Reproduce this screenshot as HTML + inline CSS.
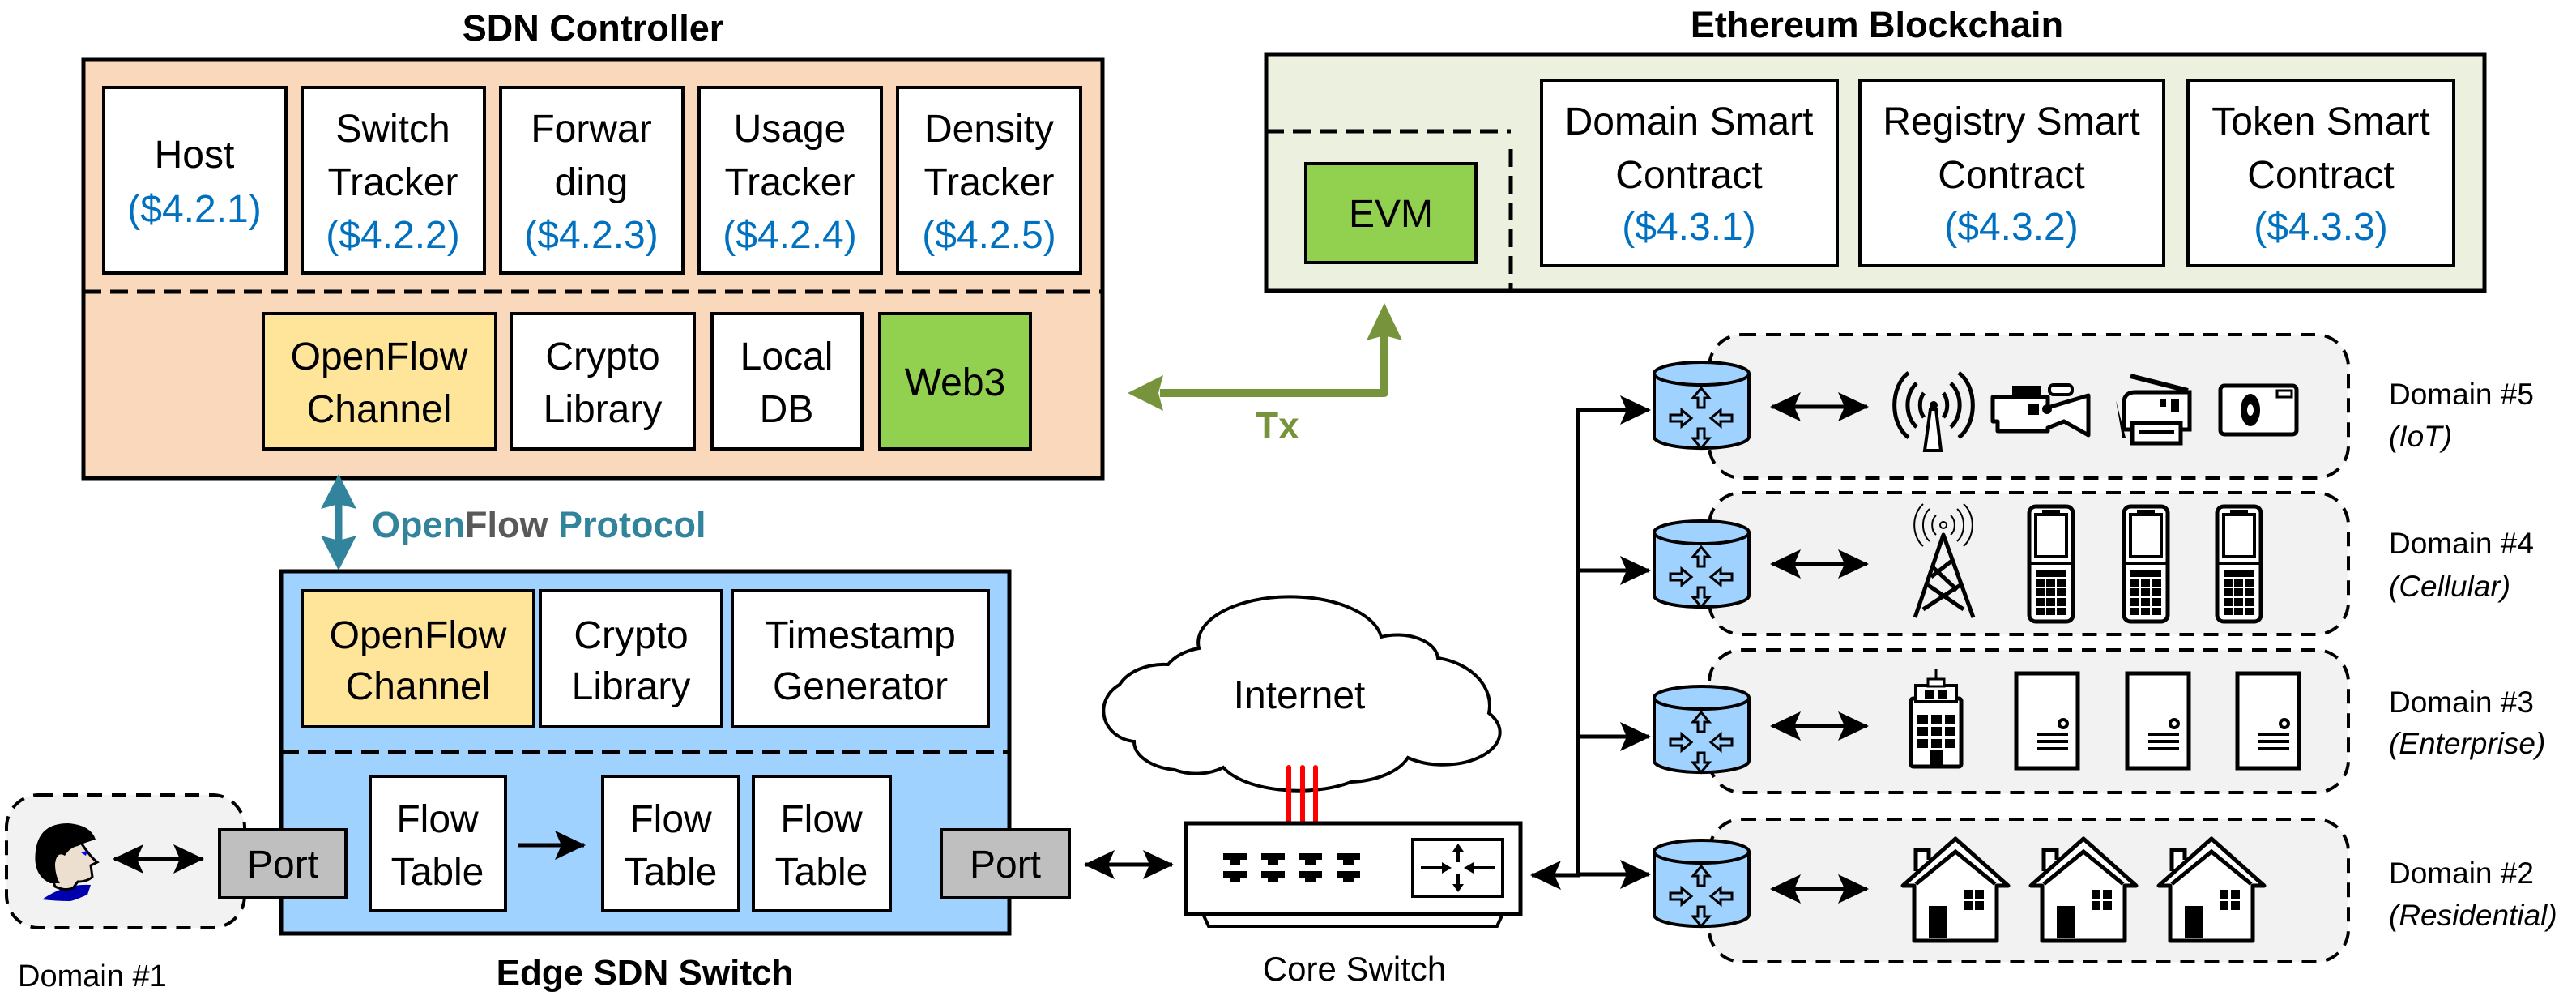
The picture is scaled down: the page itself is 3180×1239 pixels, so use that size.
<!DOCTYPE html>
<html><head><meta charset="utf-8"><style>
html,body{margin:0;padding:0;background:#fff;}
svg{display:block;}
text{font-family:"Liberation Sans",sans-serif;}
</style></head><body>
<svg width="3180" height="1239" viewBox="0 0 3180 1239" xmlns="http://www.w3.org/2000/svg">
<defs>
<marker id="ah" markerUnits="userSpaceOnUse" markerWidth="40" markerHeight="40" refX="36" refY="18" orient="auto-start-reverse"><path d="M0,0 L38,18 L0,36 L8,18 Z" fill="#000"/></marker>
<g id="router">
<path d="M0,14 L0,92 A58,14 0 0 0 117,92 L117,14" fill="#9fd2ff" stroke="#000" stroke-width="4"/>
<ellipse cx="58.5" cy="14" rx="58.5" ry="14" fill="#9fd2ff" stroke="#000" stroke-width="4"/>
<g fill="#9fd2ff" stroke="#000" stroke-width="3">
<path d="M58,32 L48,44 L54,44 L54,56 L62,56 L62,44 L68,44 Z"/>
<path d="M58,106 L48,94 L54,94 L54,82 L62,82 L62,94 L68,94 Z"/>
<path d="M46,69 L34,59 L34,65 L20,65 L20,73 L34,73 L34,79 Z"/>
<path d="M70,69 L82,59 L82,65 L96,65 L96,73 L82,73 L82,79 Z"/>
</g>
</g>
<g id="phone">
<rect x="0" y="0" width="54" height="142" rx="8" fill="#fff" stroke="#000" stroke-width="5"/>
<rect x="8" y="10" width="38" height="52" fill="#fff" stroke="#000" stroke-width="4"/>
<rect x="16" y="4" width="22" height="5" fill="#000"/>
<line x1="2" y1="70" x2="52" y2="70" stroke="#000" stroke-width="4"/>
<rect x="8" y="78" width="38" height="56" fill="#000"/>
<g stroke="#fff" stroke-width="2"><line x1="20" y1="88" x2="20" y2="134"/><line x1="33" y1="88" x2="33" y2="134"/><line x1="8" y1="88" x2="46" y2="88"/><line x1="8" y1="100" x2="46" y2="100"/><line x1="8" y1="112" x2="46" y2="112"/><line x1="8" y1="124" x2="46" y2="124"/></g>
</g>
<g id="server">
<rect x="2" y="2" width="76" height="117" fill="#fff" stroke="#000" stroke-width="5"/>
<circle cx="60" cy="64" r="5" fill="#fff" stroke="#000" stroke-width="4"/>
<rect x="28" y="75" width="38" height="4" fill="#000"/><rect x="28" y="84" width="38" height="4" fill="#000"/><rect x="28" y="93" width="38" height="4" fill="#000"/>
</g>
<g id="house">
<path d="M2,58 L67,0 L132,58 L118,58 L118,126 L16,126 L16,58 Z" fill="#fff" stroke="#000" stroke-width="5" stroke-linejoin="round"/>
<path d="M18,56 L67,16 L116,56" fill="none" stroke="#000" stroke-width="5"/>
<path d="M18,40 L18,14 L34,14 L34,26" fill="#fff" stroke="#000" stroke-width="5"/>
<rect x="34" y="83" width="22" height="40" fill="#000"/>
<rect x="77" y="63" width="11" height="11" fill="#000"/><rect x="91" y="63" width="11" height="11" fill="#000"/>
<rect x="77" y="77" width="11" height="11" fill="#000"/><rect x="91" y="77" width="11" height="11" fill="#000"/>
</g>
</defs>

<!-- SDN Controller -->
<text x="732" y="50" font-size="45" font-weight="bold" text-anchor="middle">SDN Controller</text>
<rect x="103" y="73" width="1258" height="517" fill="#fad8bb" stroke="#000" stroke-width="5"/>
<line x1="103" y1="360" x2="1361" y2="360" stroke="#000" stroke-width="5" stroke-dasharray="22,11"/>
<g fill="#fff" stroke="#000" stroke-width="4">
<rect x="128" y="108" width="225" height="229"/>
<rect x="373" y="108" width="225" height="229"/>
<rect x="618" y="108" width="225" height="229"/>
<rect x="863" y="108" width="225" height="229"/>
<rect x="1108" y="108" width="226" height="229"/>
<rect x="325" y="387" width="287" height="167" fill="#fee599"/>
<rect x="631" y="387" width="226" height="167"/>
<rect x="879" y="387" width="185" height="167"/>
<rect x="1086" y="387" width="186" height="167" fill="#92d050"/>
</g>
<g font-size="48" text-anchor="middle">
<text x="240" y="207">Host</text><text x="240" y="274" fill="#0070c0">($4.2.1)</text>
<text x="485" y="175">Switch</text><text x="485" y="241">Tracker</text><text x="485" y="306" fill="#0070c0">($4.2.2)</text>
<text x="730" y="175">Forwar</text><text x="730" y="241">ding</text><text x="730" y="306" fill="#0070c0">($4.2.3)</text>
<text x="975" y="175">Usage</text><text x="975" y="241">Tracker</text><text x="975" y="306" fill="#0070c0">($4.2.4)</text>
<text x="1221" y="175">Density</text><text x="1221" y="241">Tracker</text><text x="1221" y="306" fill="#0070c0">($4.2.5)</text>
<text x="468" y="456">OpenFlow</text><text x="468" y="521">Channel</text>
<text x="744" y="456">Crypto</text><text x="744" y="521">Library</text>
<text x="971" y="456">Local</text><text x="971" y="521">DB</text>
<text x="1179" y="488">Web3</text>
</g>

<!-- OpenFlow protocol arrow -->
<line x1="418" y1="620" x2="418" y2="670" stroke="#31849b" stroke-width="9"/>
<path d="M418,585 L440,628 L418,622 L396,628 Z" fill="#31849b"/>
<path d="M418,704 L440,661 L418,667 L396,661 Z" fill="#31849b"/>
<text x="459" y="663" font-size="45" font-weight="bold" fill="#31849b">Open<tspan fill="#595959">Flow</tspan> Protocol</text>

<!-- Edge SDN switch -->
<rect x="347" y="705" width="899" height="447" fill="#9fd2ff" stroke="#000" stroke-width="5"/>
<line x1="347" y1="928" x2="1246" y2="928" stroke="#000" stroke-width="5" stroke-dasharray="22,11"/>
<g fill="#fff" stroke="#000" stroke-width="4">
<rect x="373" y="729" width="286" height="168" fill="#fee599"/>
<rect x="667" y="729" width="224" height="168"/>
<rect x="904" y="729" width="316" height="168"/>
<rect x="457" y="958" width="167" height="166"/>
<rect x="744" y="958" width="168" height="166"/>
<rect x="930" y="958" width="169" height="166"/>
<rect x="271" y="1024" width="156" height="84" fill="#bfbfbf"/>
<rect x="1162" y="1024" width="158" height="84" fill="#bfbfbf"/>
</g>
<g font-size="48" text-anchor="middle">
<text x="516" y="800">OpenFlow</text><text x="516" y="863">Channel</text>
<text x="779" y="800">Crypto</text><text x="779" y="863">Library</text>
<text x="1062" y="800">Timestamp</text><text x="1062" y="863">Generator</text>
<text x="540" y="1027">Flow</text><text x="540" y="1092">Table</text>
<text x="828" y="1027">Flow</text><text x="828" y="1092">Table</text>
<text x="1014" y="1027">Flow</text><text x="1014" y="1092">Table</text>
<text x="349" y="1083">Port</text><text x="1241" y="1083">Port</text>
</g>
<line x1="639" y1="1043" x2="721" y2="1043" stroke="#000" stroke-width="5" marker-end="url(#ah)"/>
<text x="796" y="1215" font-size="44" font-weight="bold" text-anchor="middle">Edge SDN Switch</text>

<!-- Domain 1 -->
<rect x="8" y="981" width="294" height="164" rx="40" fill="#f2f2f2" stroke="#000" stroke-width="4" stroke-dasharray="18,12"/>
<rect x="271" y="1024" width="156" height="84" fill="#bfbfbf" stroke="#000" stroke-width="4"/>
<text x="349" y="1083" font-size="48" text-anchor="middle">Port</text>
<path d="M52,1110 Q80,1090 112,1092 L108,1104 Q90,1112 86,1112 Q70,1112 52,1110 Z" fill="#0000b0"/>
<path d="M64,1050 Q66,1030 90,1032 L100,1040 Q112,1058 120,1064 L112,1068 L114,1082 Q108,1088 96,1088 L90,1096 Q80,1100 68,1094 Q60,1074 64,1050 Z" fill="#ecdfd0" stroke="#000" stroke-width="3"/>
<path d="M62,1090 Q40,1080 44,1050 Q48,1016 84,1016 Q112,1018 118,1036 Q104,1040 96,1044 Q86,1046 80,1056 Q70,1050 68,1066 Q68,1080 74,1090 Z" fill="#000"/>
<path d="M100,1052 L108,1050 L106,1056 Z" fill="#0000ff"/>
<line x1="141" y1="1060" x2="250" y2="1060" stroke="#000" stroke-width="5" marker-start="url(#ah)" marker-end="url(#ah)"/>
<text x="22" y="1217" font-size="38">Domain #1</text>

<!-- Port to core switch -->
<line x1="1340" y1="1067" x2="1447" y2="1067" stroke="#000" stroke-width="5" marker-start="url(#ah)" marker-end="url(#ah)"/>

<!-- Ethereum -->
<text x="2317" y="46" font-size="45" font-weight="bold" text-anchor="middle">Ethereum Blockchain</text>
<rect x="1563" y="67" width="1504" height="292" fill="#ebf1de" stroke="#000" stroke-width="5"/>
<line x1="1563" y1="162" x2="1865" y2="162" stroke="#000" stroke-width="5" stroke-dasharray="22,11"/>
<line x1="1865" y1="184" x2="1865" y2="359" stroke="#000" stroke-width="5" stroke-dasharray="22,11"/>
<g fill="#fff" stroke="#000" stroke-width="4">
<rect x="1612" y="202" width="210" height="122" fill="#92d050"/>
<rect x="1903" y="99" width="365" height="229"/>
<rect x="2296" y="99" width="375" height="229"/>
<rect x="2701" y="99" width="328" height="229"/>
</g>
<g font-size="48" text-anchor="middle">
<text x="1717" y="280">EVM</text>
<text x="2085" y="166">Domain Smart</text><text x="2085" y="232">Contract</text><text x="2085" y="296" fill="#0070c0">($4.3.1)</text>
<text x="2483" y="166">Registry Smart</text><text x="2483" y="232">Contract</text><text x="2483" y="296" fill="#0070c0">($4.3.2)</text>
<text x="2865" y="166">Token Smart</text><text x="2865" y="232">Contract</text><text x="2865" y="296" fill="#0070c0">($4.3.3)</text>
</g>

<!-- Tx arrow -->
<path d="M1432,485 L1709,485 L1709,410" fill="none" stroke="#77933c" stroke-width="10" stroke-linejoin="round"/>
<path d="M1709,374 L1731,420 L1709,414 L1687,420 Z" fill="#77933c"/>
<path d="M1392,485 L1436,463 L1430,485 L1436,507 Z" fill="#77933c"/>
<text x="1550" y="541" font-size="46" font-weight="bold" fill="#77933c">Tx</text>

<!-- Cloud -->
<path d="M1400,915 A42,38 0 0 1 1382,845 A60,42 0 0 1 1442,820 A60,40 0 0 1 1480,800 A110,55 0 0 1 1705,786 A50,30 0 0 1 1775,812 A80,60 0 0 1 1838,880 A70,40 0 0 1 1738,935 A80,45 0 0 1 1668,965 A100,45 0 0 1 1510,947 A50,30 0 0 1 1450,950 A60,35 0 0 1 1400,915 Z" fill="#fff" stroke="#000" stroke-width="4"/>
<text x="1604" y="874" font-size="48" text-anchor="middle">Internet</text>
<g stroke="#ff0000" stroke-width="6" stroke-linecap="round"><line x1="1591" y1="947" x2="1591" y2="1020"/><line x1="1608" y1="947" x2="1608" y2="1020"/><line x1="1624" y1="947" x2="1624" y2="1020"/></g>

<!-- Core switch -->
<path d="M1485,1128 L1492,1143 L1848,1143 L1855,1128" fill="#fff" stroke="#000" stroke-width="4"/>
<rect x="1464" y="1016" width="413" height="112" fill="#fff" stroke="#000" stroke-width="5"/>
<g fill="#000">
<rect x="1510" y="1053" width="29" height="8"/><rect x="1518" y="1061" width="13" height="6"/>
<rect x="1557" y="1053" width="29" height="8"/><rect x="1565" y="1061" width="13" height="6"/>
<rect x="1603" y="1053" width="29" height="8"/><rect x="1611" y="1061" width="13" height="6"/>
<rect x="1650" y="1053" width="29" height="8"/><rect x="1658" y="1061" width="13" height="6"/>
<rect x="1510" y="1075" width="29" height="8"/><rect x="1518" y="1083" width="13" height="6"/>
<rect x="1557" y="1075" width="29" height="8"/><rect x="1565" y="1083" width="13" height="6"/>
<rect x="1603" y="1075" width="29" height="8"/><rect x="1611" y="1083" width="13" height="6"/>
<rect x="1650" y="1075" width="29" height="8"/><rect x="1658" y="1083" width="13" height="6"/>
</g>
<rect x="1744" y="1036" width="111" height="70" fill="#fff" stroke="#000" stroke-width="4"/>
<g stroke="#000" stroke-width="4"><line x1="1754" y1="1071" x2="1784" y2="1071"/><line x1="1815" y1="1071" x2="1845" y2="1071"/><line x1="1800" y1="1048" x2="1800" y2="1064"/><line x1="1800" y1="1078" x2="1800" y2="1096"/></g>
<g fill="#000"><path d="M1792,1071 L1780,1064 L1780,1078 Z"/><path d="M1807,1071 L1819,1064 L1819,1078 Z"/><path d="M1800,1041 L1793,1051 L1807,1051 Z"/><path d="M1800,1101 L1793,1091 L1807,1091 Z"/></g>
<text x="1672" y="1210" font-size="42" text-anchor="middle">Core Switch</text>

<!-- Bus -->
<line x1="1948" y1="506" x2="1948" y2="1081" stroke="#000" stroke-width="5"/>
<line x1="1950" y1="1080" x2="1891" y2="1080" stroke="#000" stroke-width="5" marker-end="url(#ah)"/>
<g stroke="#000" stroke-width="5">
<line x1="1946" y1="506" x2="2036" y2="506" marker-end="url(#ah)"/>
<line x1="1946" y1="704" x2="2036" y2="704" marker-end="url(#ah)"/>
<line x1="1946" y1="909" x2="2036" y2="909" marker-end="url(#ah)"/>
<line x1="1946" y1="1079" x2="2036" y2="1079" marker-end="url(#ah)"/>
</g>

<!-- Domain boxes -->
<g fill="#f2f2f2" stroke="#000" stroke-width="4" stroke-dasharray="18,12">
<rect x="2110" y="413" width="789" height="177" rx="40"/>
<rect x="2110" y="608" width="789" height="175" rx="40"/>
<rect x="2110" y="802" width="789" height="176" rx="40"/>
<rect x="2110" y="1011" width="789" height="176" rx="40"/>
</g>
<use href="#router" x="2042" y="447"/>
<use href="#router" x="2042" y="643"/>
<use href="#router" x="2042" y="847"/>
<use href="#router" x="2042" y="1037"/>
<g stroke="#000" stroke-width="5">
<line x1="2187" y1="502" x2="2305" y2="502" marker-start="url(#ah)" marker-end="url(#ah)"/>
<line x1="2187" y1="696" x2="2305" y2="696" marker-start="url(#ah)" marker-end="url(#ah)"/>
<line x1="2187" y1="896" x2="2305" y2="896" marker-start="url(#ah)" marker-end="url(#ah)"/>
<line x1="2187" y1="1097" x2="2305" y2="1097" marker-start="url(#ah)" marker-end="url(#ah)"/>
</g>

<!-- D5 icons -->
<path d="M2383,505 L2376,556 L2396,556 L2390,505 Z" fill="#fff" stroke="#000" stroke-width="4"/>
<circle cx="2387" cy="500" r="5" fill="#000"/>
<g fill="none" stroke="#000" stroke-width="5">
<path d="M2375,485 A14,20 0 0 0 2375,515"/><path d="M2399,485 A14,20 0 0 1 2399,515"/>
<path d="M2366,473 A24,32 0 0 0 2366,527"/><path d="M2408,473 A24,32 0 0 1 2408,527"/>
<path d="M2356,460 A32,45 0 0 0 2356,540"/><path d="M2418,460 A32,45 0 0 1 2418,540"/>
</g>
<path d="M2460,490 L2528,490 L2528,503 L2578,488 L2578,537 L2548,520 L2528,528 L2528,532 L2466,532 L2466,520 L2460,520 Z" fill="#fff" stroke="#000" stroke-width="5" stroke-linejoin="round"/>
<rect x="2484" y="476" width="36" height="14" fill="#000"/><rect x="2530" y="475" width="28" height="12" rx="5" fill="#fff" stroke="#000" stroke-width="4"/>
<rect x="2503" y="498" width="14" height="14" fill="#000"/><circle cx="2527" cy="505" r="6" fill="#000"/>
<path d="M2612,494 L2620,540 L2624,540 Z" fill="#000"/>
<path d="M2622,497 Q2622,484 2636,484 L2703,484 L2703,530 L2622,530 Z" fill="#fff" stroke="#000" stroke-width="5"/>
<line x1="2630" y1="464" x2="2701" y2="482" stroke="#000" stroke-width="6"/>
<rect x="2632" y="522" width="60" height="25" fill="#fff" stroke="#000" stroke-width="5"/>
<rect x="2640" y="531" width="44" height="5" fill="#000"/>
<rect x="2666" y="492" width="8" height="10" fill="#000"/><rect x="2680" y="492" width="10" height="16" fill="#000"/>
<rect x="2741" y="476" width="94" height="60" rx="5" fill="#fff" stroke="#000" stroke-width="5"/>
<ellipse cx="2778" cy="506" rx="12" ry="20" fill="#000"/><ellipse cx="2778" cy="506" rx="4" ry="7" fill="#fff"/>
<rect x="2811" y="482" width="18" height="8" fill="#fff" stroke="#000" stroke-width="3"/>

<!-- D4 icons -->
<g fill="none" stroke="#000" stroke-width="5" stroke-linejoin="round">
<path d="M2364,762 L2399,660 L2436,762"/>
<path d="M2384,712 L2412,690 M2386,700 L2416,728 M2380,722 L2424,752 M2420,722 L2374,752"/>
</g>
<circle cx="2399" cy="648" r="4" fill="none" stroke="#000" stroke-width="2"/>
<g fill="none" stroke="#000" stroke-width="2">
<path d="M2390,636 A10,14 0 0 0 2390,660"/><path d="M2408,636 A10,14 0 0 1 2408,660"/>
<path d="M2382,628 A18,24 0 0 0 2382,668"/><path d="M2416,628 A18,24 0 0 1 2416,668"/>
<path d="M2374,622 A26,32 0 0 0 2374,674"/><path d="M2424,622 A26,32 0 0 1 2424,674"/>
</g>
<use href="#phone" x="2505" y="625"/>
<use href="#phone" x="2622" y="625"/>
<use href="#phone" x="2737" y="625"/>

<!-- D3 icons -->
<rect x="2359" y="862" width="62" height="84" rx="3" fill="#fff" stroke="#000" stroke-width="5"/>
<rect x="2365" y="846" width="50" height="20" fill="#fff" stroke="#000" stroke-width="4"/>
<rect x="2380" y="838" width="20" height="9" fill="#fff" stroke="#000" stroke-width="3"/>
<line x1="2390" y1="825" x2="2390" y2="838" stroke="#000" stroke-width="3"/>
<rect x="2376" y="852" width="12" height="10" fill="#000"/><rect x="2392" y="852" width="12" height="10" fill="#000"/>
<g fill="#000"><rect x="2367" y="882" width="13" height="11"/><rect x="2384" y="882" width="13" height="11"/><rect x="2401" y="882" width="13" height="11"/><rect x="2367" y="897" width="13" height="11"/><rect x="2384" y="897" width="13" height="11"/><rect x="2401" y="897" width="13" height="11"/><rect x="2367" y="912" width="13" height="11"/><rect x="2384" y="912" width="13" height="11"/><rect x="2401" y="912" width="13" height="11"/><rect x="2382" y="925" width="16" height="20"/></g>
<use href="#server" x="2487" y="829"/>
<use href="#server" x="2624" y="829"/>
<use href="#server" x="2760" y="829"/>

<!-- D2 houses -->
<use href="#house" x="2347" y="1035"/>
<use href="#house" x="2505" y="1035"/>
<use href="#house" x="2663" y="1035"/>

<!-- Domain labels -->
<g font-size="37">
<text x="2949" y="499">Domain #5</text><text x="2949" y="551" font-style="italic">(IoT)</text>
<text x="2949" y="683">Domain #4</text><text x="2949" y="736" font-style="italic">(Cellular)</text>
<text x="2949" y="879">Domain #3</text><text x="2949" y="930" font-style="italic">(Enterprise)</text>
<text x="2949" y="1090">Domain #2</text><text x="2949" y="1142" font-style="italic">(Residential)</text>
</g>
</svg>
</body></html>
